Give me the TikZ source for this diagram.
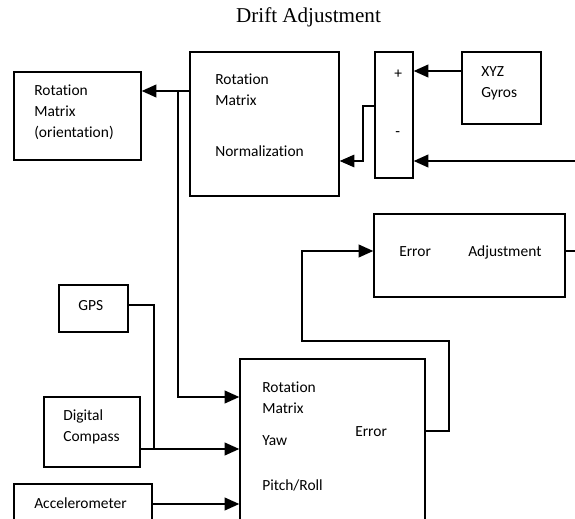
\documentclass[tikz,border=0pt]{standalone}
\usepackage{fontspec}
\setmainfont{Carlito}[Ligatures=NoCommon]
\newfontfamily\titlefont{Liberation Serif}
\usetikzlibrary{arrows.meta}

\begin{document}
\begin{tikzpicture}[
    x=0.025cm, y=-0.025cm,
    box/.style={draw, line width=0.9pt, inner sep=0pt},
    txt/.style={anchor=west, inner sep=0pt, text height=0.644em, text depth=0pt, font=\fontsize{11}{13}\selectfont},
    flow/.style={-{Triangle[length=10.5pt, width=9pt]}, line width=1.5pt},
    link/.style={line width=0.8pt},
    thinflow/.style={-{Triangle[length=10.5pt, width=9pt]}, line width=0.8pt}
]
    \useasboundingbox (0,0) rectangle (575,519);
    \clip (0,0) rectangle (575,519);

    \node[inner sep=0pt, font=\titlefont\fontsize{15}{18}\selectfont] (title) at (308.5,17) {Drift Adjustment};

    % blocks
    \node[box, minimum width=3.175cm, minimum height=2.2cm] (orient) at (77.5,116) {};
    \node[box, minimum width=3.725cm, minimum height=3.6cm] (rmn) at (264.5,124) {};
    \node[box, minimum width=0.95cm, minimum height=3.15cm] (sum) at (394,115) {};
    \node[box, minimum width=1.975cm, minimum height=1.8cm] (gyro) at (501.5,88) {};
    \node[box, minimum width=4.775cm, minimum height=2.075cm] (erradj) at (469.5,255.5) {};
    \node[box, minimum width=1.725cm, minimum height=1.175cm] (gps) at (93.5,308.5) {};
    \node[box, minimum width=2.4cm, minimum height=1.75cm] (compass) at (92,432) {};
    \node[box, minimum width=3.45cm, minimum height=1.55cm] (accel) at (83,515) {};
    \node[box, minimum width=4.625cm, minimum height=5.05cm] (est) at (332.5,460) {};

    % texts
    \node[txt] (orient1) at (34,91) {Rotation};
    \node[txt] (orient2) at (34,112) {Matrix};
    \node[txt] (orient3) at (34,133) {(orientation)};
    \node[txt] (rmn1) at (215,80) {Rotation};
    \node[txt] (rmn2) at (215,101) {Matrix};
    \node[txt] (rmn3) at (215,152) {Normalization};
    \node[txt] (plus) at (394,74) {+};
    \node[txt] (minus) at (395,132) {-};
    \node[txt] (gyro1) at (481,72) {XYZ};
    \node[txt] (gyro2) at (481,93) {Gyros};
    \node[txt] (erradj1) at (399,252) {Error};
    \node[txt] (erradj2) at (468,252) {Adjustment};
    \node[txt] (gps1) at (78,306) {GPS};
    \node[txt] (compass1) at (63,416) {Digital};
    \node[txt] (compass2) at (63,437) {Compass};
    \node[txt] (accel1) at (34,504) {Accelerometer};
    \node[txt] (est1) at (262,388) {Rotation};
    \node[txt] (est2) at (262,409) {Matrix};
    \node[txt] (est3) at (262,441) {Yaw};
    \node[txt] (est4) at (262,486) {Pitch/Roll};
    \node[txt] (est5) at (355,432) {Error};

    % connectors
    \coordinate (tap) at (178,91);
    \coordinate (fbin) at (575,161);
    \coordinate (adjout) at (575,251);
    \draw[flow] (rmn.west |- tap) -- (orient.east |- tap);
    \draw[flow] (tap) |- (est.west |- 0,397);
    \draw[flow] (gyro.west |- 0,71) -- (sum.east |- 0,71);
    \draw[flow] (fbin) -- (sum.east |- fbin);
    \draw[thinflow] (sum.west |- 0,106) -| (363,161) -- (rmn.east |- 0,161);
    \draw[link] (erradj.east |- adjout) -- (adjout);
    \draw[flow] (est.east |- 0,431) -| (449,341) -| (302,251) -- (erradj.west |- 0,251);
    \draw[link] (gps.east |- 0,305) -| (154,449);
    \draw[flow] (compass.east |- 0,449) -- (est.west |- 0,449);
    \draw[flow] (accel.east |- 0,504) -- (est.west |- 0,504);
\end{tikzpicture}
\end{document}
